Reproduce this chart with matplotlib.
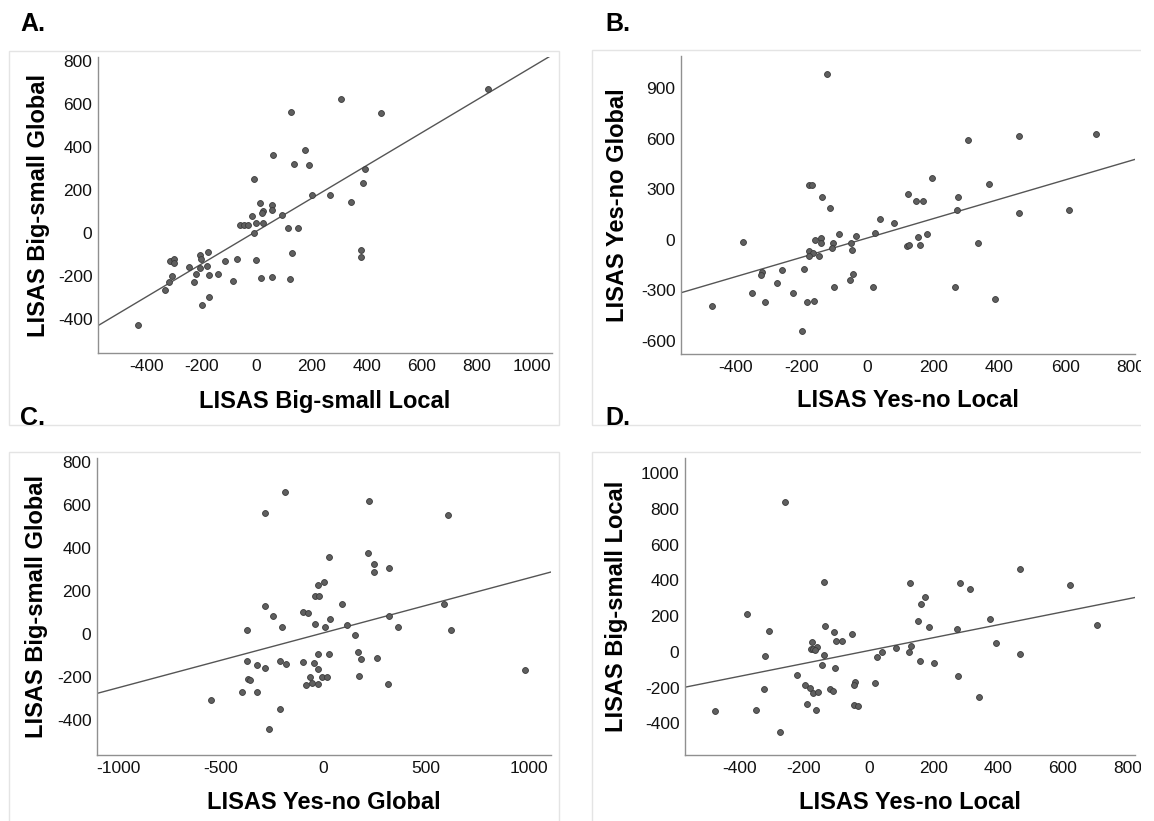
import numpy as np
import matplotlib
matplotlib.use("Agg")
import matplotlib.pyplot as plt
from matplotlib.patches import Rectangle

plt.rcParams['font.family'] = ['Liberation Sans', 'DejaVu Sans']
plt.rcParams['axes.unicode_minus'] = False

# ---- Panel A: LISAS Big-small Local (x) vs Big-small Global (y)
a_x = [841, 306, 126, 453, 61, 174, 136, 190, 393, 386, -8, 199, 266, 341, 11, 56, 24, 21, 56, -16,
       91, -59, -45, -33, -3, 24, 114, 150, -11, 377, 378, 128, -1, -71, -115, -178, -207, -202, -205, -182,
       -247, -313, -299, -301, -307, -221, -174, -140, -317, -229, -86, 17, 56, 120, -332, -172, -199, -432]
a_y = [669, 625, 565, 558, 364, 386, 324, 318, 298, 233, 252, 178, 179, 144, 141, 133, 105, 94, 110, 82,
       86, 40, 40, 36, 46, 46, 23, 23, 0, -77, -111, -91, -127, -122, -131, -88, -103, -119, -161, -153,
       -158, -130, -122, -137, -199, -192, -193, -192, -227, -229, -225, -207, -204, -215, -266, -297, -335, -429]

# ---- Panel B: LISAS Yes-no Local (x) vs Yes-no Global (y)
b_x = [-122, 306, 460, 695, 197, 369, -177, -169, -139, 122, 274, 147, 169, -115, 271, 460, 612, 37, 79, -86,
       -36, 22, 182, -158, -141, -141, -106, -49, 154, -377, 334, 120, 127, 159, -109, -47, -178, -165, -179, -147,
       -193, -259, -321, -323, -45, -54, -275, -103, 16, 267, -349, -225, -310, -183, -162, 387, -473, -198]
b_y = [987, 592, 616, 626, 369, 329, 325, 325, 252, 269, 254, 228, 228, 186, 178, 160, 174, 123, 99, 32,
       24, 40, 34, -2, 8, -20, -18, -18, 16, -14, -22, -38, -34, -34, -52, -59, -67, -79, -95, -95,
       -176, -180, -194, -208, -204, -240, -260, -279, -279, -279, -319, -319, -369, -371, -365, -355, -394, -543]

# ---- Panel C: LISAS Yes-no Global (x) vs Big-small Global (y)
c_x = [-187, 222, -287, 608, 219, 25, 246, 321, 247, 2, -27, -41, -20, 91, 587, -285, -100, -75, -248, 34,
       319, -41, 117, -201, 9, 363, -373, 621, 152, 169, -25, 27, 181, 260, -374, -211, -100, -45, -323, -287,
       -183, -29, 981, -66, -7, 16, 172, -368, -359, -57, -86, -27, 317, -400, -325, -547, -213, -265]
c_y = [659, 621, 562, 556, 379, 358, 324, 308, 288, 241, 228, 175, 175, 138, 141, 130, 104, 96, 84, 71,
       84, 45, 42, 34, 31, 33, 17, 17, -6, -84, -94, -93, -115, -113, -124, -127, -128, -132, -144, -158,
       -139, -164, -167, -197, -197, -200, -193, -209, -215, -226, -238, -232, -234, -269, -268, -308, -347, -441]

# ---- Panel D: LISAS Yes-no Local (x) vs Big-small Local (y)
d_x = [-259, 468, -139, 127, 281, 622, 313, 175, 163, -377, 152, 375, 186, -136, 705, 274, -309, -106, -51, -101,
       -83, -176, 393, -178, -173, -161, -165, 83, 132, 41, 125, -320, -139, 25, 466, 159, 201, -144, -103, -223,
       276, 19, -43, -47, -197, -182, -324, -120, -112, -172, -156, 340, -192, -45, -33, -349, -474, -164, -275]
d_y = [838, 462, 391, 387, 387, 376, 350, 309, 268, 209, 173, 181, 140, 147, 151, 128, 114, 112, 99, 63,
       61, 54, 47, 17, 15, 28, 11, 22, 35, -2, -2, -24, -17, -28, -13, -54, -61, -74, -88, -127,
       -134, -175, -168, -184, -184, -205, -210, -210, -220, -229, -222, -251, -294, -296, -302, -326, -330, -328, -447]

panel_letters = ["A.", "B.", "C.", "D."]
x_titles = ["LISAS Big-small Local", "LISAS Yes-no Local", "LISAS Yes-no Global", "LISAS Yes-no Local"]
y_titles = ["LISAS Big-small Global", "LISAS Yes-no Global", "LISAS Big-small Global", "LISAS Big-small Local"]
x_ticks = [list(range(-400, 1001, 200)), list(range(-400, 801, 200)),
           list(range(-1000, 1001, 500)), list(range(-400, 801, 200))]
y_ticks = [list(range(-400, 801, 200)), list(range(-600, 901, 300)),
           list(range(-400, 801, 200)), list(range(-400, 1001, 200))]

W, H = 1154, 821
fig = plt.figure(figsize=(W / 100, H / 100), dpi=100)

def fx(px):
    return px / W

def fy(py):
    return 1 - py / H

# axes boxes in pixels: left, top, right, bottom
boxes = [(98, 57, 552, 353), (681, 56, 1135, 354), (97, 458, 551, 755), (685, 458, 1135, 755)]
xlims = [(-576, 1072), (-566, 812), (-1105, 1110), (-568, 823)]
ylims = [(-558, 820), (-680, 1092), (-562, 819), (-577, 1084)]
ylab_x = [39, 617, 36, 617]
xlab_y = [401, 400, 802, 802]
data = [(a_x, a_y), (b_x, b_y), (c_x, c_y), (d_x, d_y)]

# light frames around each panel
frames = [(9, 51, 559, 425), (592, 50, 1160, 425), (9, 452, 559, 830), (592, 452, 1160, 830)]
for (l, t, r, b) in frames:
    fig.add_artist(Rectangle((fx(l), fy(b)), fx(r - l), (b - t) / H, transform=fig.transFigure,
                             fill=False, edgecolor='#e4e4e4', linewidth=1.0, zorder=0.5))

letter_pos = [(20, 24), (605, 24), (20, 418), (605, 418)]

for i in range(4):
    l, t, r, b = boxes[i]
    ax = fig.add_axes([fx(l), fy(b), (r - l) / W, (b - t) / H])
    ax.set_facecolor('none')
    x = np.array(data[i][0], dtype=float)
    y = np.array(data[i][1], dtype=float)
    ax.scatter(x, y, s=18, facecolor='#5f5f5f', edgecolor='#3a3a3a', linewidth=0.6, zorder=3)
    k, c0 = np.polyfit(x, y, 1)
    xl = np.array(xlims[i])
    ax.plot(xl, k * xl + c0, color='#555555', linewidth=1.0, zorder=2)
    ax.set_xlim(*xlims[i])
    ax.set_ylim(*ylims[i])
    ax.set_xticks(x_ticks[i])
    ax.set_yticks(y_ticks[i])
    ax.tick_params(length=0, labelsize=12.5, pad=4, colors='#111111')
    for s in ['top', 'right']:
        ax.spines[s].set_visible(False)
    for s in ['left', 'bottom']:
        ax.spines[s].set_color('#909090')
        ax.spines[s].set_linewidth(1.0)
    ax.set_xlabel(x_titles[i], fontsize=17, fontweight='bold', va='center')
    ax.set_ylabel(y_titles[i], fontsize=17, fontweight='bold', va='center')
    ax.xaxis.set_label_coords(0.5, -(xlab_y[i] - b) / (b - t))
    ax.yaxis.set_label_coords((ylab_x[i] - l) / (r - l), 0.5)
    lx, ly = letter_pos[i]
    fig.text(fx(lx), fy(ly), panel_letters[i], fontsize=18, fontweight='bold', ha='left', va='center')

# the reference is cropped at the right edge
fig.add_artist(Rectangle((fx(1141), 0), fx(W - 1141) + 0.01, 1, transform=fig.transFigure,
                         facecolor='white', edgecolor='none', zorder=20))

fig.savefig('out.png', dpi=100, facecolor='white')
